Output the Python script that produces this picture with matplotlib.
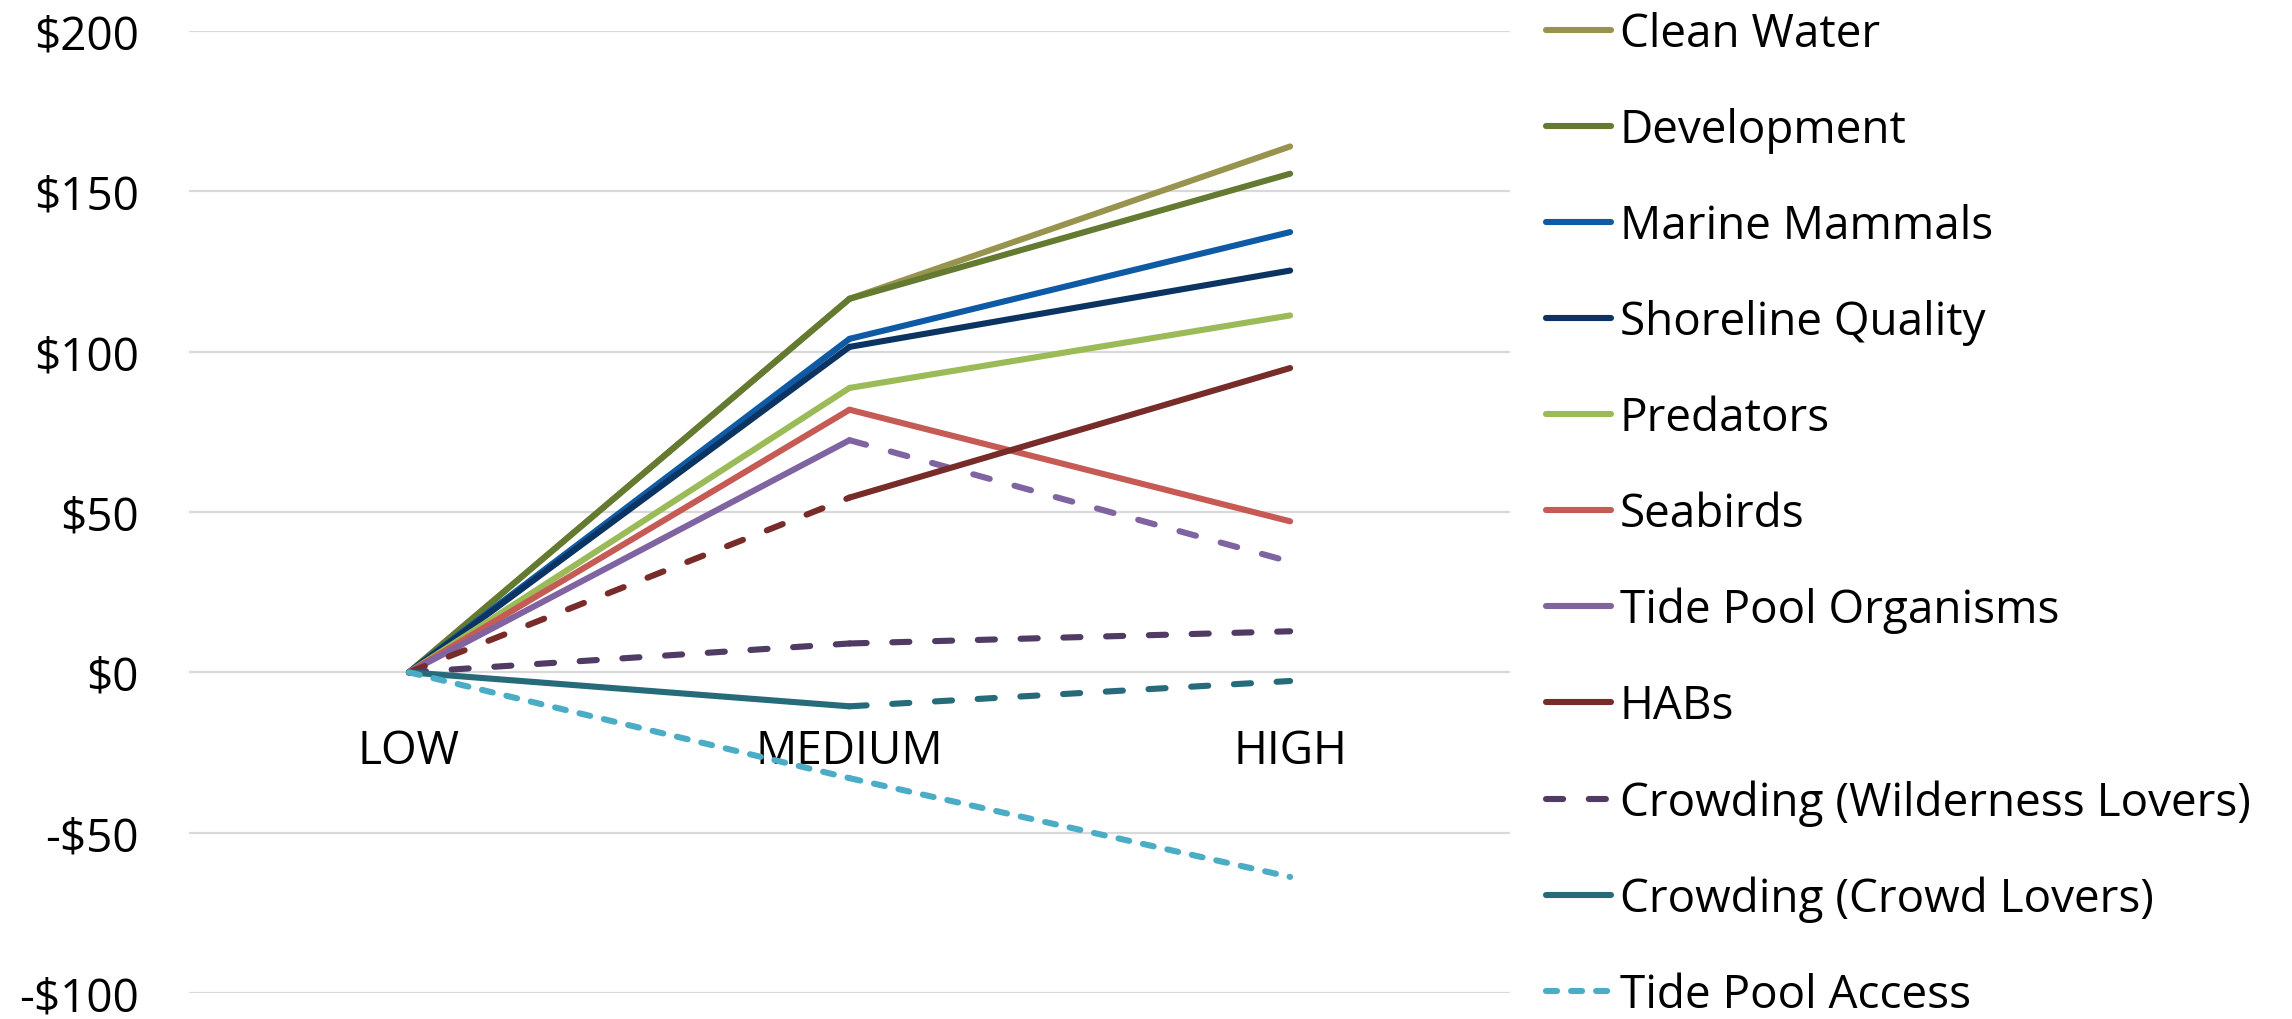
import matplotlib.pyplot as plt
from matplotlib.lines import Line2D

plt.rcParams['font.family'] = ['Open Sans', 'DejaVu Sans']

levels = ['LOW', 'MEDIUM', 'HIGH']

clean_water = [0, 116.5, 164.0]
development = [0, 116.5, 155.5]
marine_mammals = [0, 104.0, 137.3]
shoreline_quality = [0, 101.5, 125.3]
predators = [0, 88.7, 111.3]
seabirds = [0, 81.9, 47.1]
tide_pool_organisms = [0, 72.4, 34.5]
habs = [0, 54.5, 94.9]
crowding_wilderness = [0, 9.0, 12.8]
crowding_crowd = [0, -10.6, -2.7]
tide_pool_access = [0, -33.0, -63.8]

yticks = [-100, -50, 0, 50, 100, 150, 200]

# dash patterns, in line widths (round caps make dashes look longer)
DASH = (2.8, 4.2)
SHORT = (1.8, 2.3)

# name, values, colour, legend style, style of each of the two segments
# '-' solid, 'd' dash, 's' short dash
series = [
    ('Clean Water', clean_water, '#98944F', '-', ['-', '-']),
    ('Development', development, '#647A30', '-', ['-', '-']),
    ('Marine Mammals', marine_mammals, '#0F5AA5', '-', ['-', '-']),
    ('Shoreline Quality', shoreline_quality, '#0C3462', '-', ['-', '-']),
    ('Predators', predators, '#9BBB59', '-', ['-', '-']),
    ('Seabirds', seabirds, '#C65B55', '-', ['-', '-']),
    ('Tide Pool Organisms', tide_pool_organisms, '#8064A2', '-', ['-', 'd']),
    ('HABs', habs, '#772C2A', '-', ['d', '-']),
    ('Crowding (Wilderness Lovers)', crowding_wilderness, '#4F3B64', 'd', ['d', 'd']),
    ('Crowding (Crowd Lovers)', crowding_crowd, '#276B7A', '-', ['-', 'd']),
    ('Tide Pool Access', tide_pool_access, '#4BACC6', 's', ['s', 's']),
]

LW = 4.4
FS = 33


def style_kw(s):
    if s == 'd':
        return dict(linestyle=(0, DASH), dash_capstyle='round')
    if s == 's':
        return dict(linestyle=(0, SHORT), dash_capstyle='round')
    return dict(linestyle='-', solid_capstyle='round')


fig = plt.figure(figsize=(22.92, 10.2), dpi=100)
ax = fig.add_axes([0.0823, 0.0255, 0.5767, 0.9431])

x = list(range(len(levels)))
handles = []
for name, vals, color, leg_style, segs in series:
    for i, s in enumerate(segs):
        ax.plot(x[i:i + 2], vals[i:i + 2], color=color, linewidth=LW,
                solid_joinstyle='round', **style_kw(s))
    handles.append(Line2D([], [], color=color, linewidth=LW, label=name,
                          **style_kw(leg_style)))

ax.set_xlim(-0.5, 2.5)
ax.set_ylim(-100, 200)
ax.set_yticks(yticks)
ax.set_yticklabels(['-$%d' % -v if v < 0 else '$%d' % v for v in yticks])
ax.set_xticks(x)
ax.set_xticklabels(levels)

ax.grid(axis='y', color='#D9D9D9', linewidth=1.6)
ax.set_axisbelow(True)
for side in ['top', 'right', 'left']:
    ax.spines[side].set_visible(False)
ax.spines['bottom'].set_position(('data', 0))
ax.spines['bottom'].set_visible(False)
ax.tick_params(axis='both', length=0, labelsize=FS, colors='black')
ax.tick_params(axis='y', pad=36)
ax.tick_params(axis='x', pad=40)

fig.legend(handles=handles, loc='upper left', bbox_to_anchor=(0.6745, 0.988),
           frameon=False, fontsize=FS, handlelength=1.41, handletextpad=0.2,
           labelspacing=1.09, borderaxespad=0, borderpad=0)

fig.savefig('out.png', dpi=100)
